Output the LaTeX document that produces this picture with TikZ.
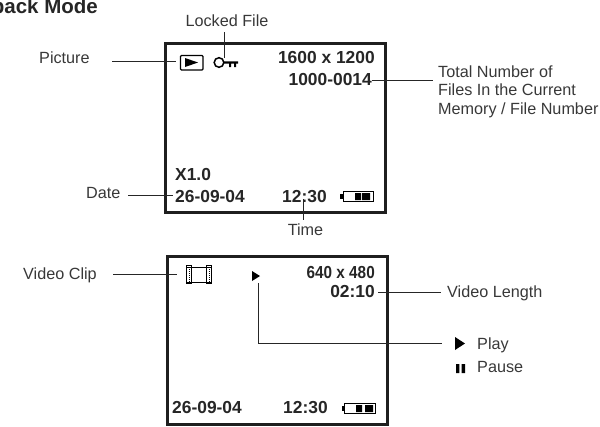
\documentclass[tikz,border=0pt]{standalone}
\usepackage{fontspec}
\setmainfont{Liberation Sans}
\begin{document}
\begin{tikzpicture}[x=1pt,y=-1pt,
  lbl/.style={text=black!78,font=\fontsize{16.2}{18}\selectfont,inner sep=0pt},
  val/.style={text=black!85,font=\fontsize{17.4}{19}\selectfont\bfseries,inner sep=0pt},
  screen/.style={draw=black!88,line width=3.4pt,fill=white,inner sep=0pt,anchor=north west},
  conn/.style={draw=black!85,line width=0.7pt}]
\useasboundingbox (0,0) rectangle (600,426);
\node[anchor=base east,inner sep=0pt,font=\fontsize{20.5}{23}\selectfont\bfseries,text=black!85] (title) at (98,13.5) {back Mode};
% screens
\node[screen,minimum width=220.5pt,minimum height=169pt] (s1) at (163.5,42) {};
\node[screen,minimum width=220pt,minimum height=168pt] (s2) at (165.5,255) {};
% screen 1 content
\node[val,anchor=base east] (res) at (375,63) {1600 x 1200};
\node[val,anchor=base east] (num) at (372,85) {1000-0014};
\node[val,anchor=base west] (zoom) at (175,180) {X1.0};
\node[val,anchor=base west] (d1) at (175,202) {26-09-04};
\node[val,anchor=base west] (t1) at (282,202) {12:30};
\draw[black,line width=1.1pt,rounded corners=1pt] (180.5,55.5) rectangle (203,70);
\coordinate (picicon) at (176,61);
\fill[black] (185,58) -- (198,62.5) -- (185,67) -- cycle;
\draw[black,line width=1.5pt] (219,62.5) circle (4.8);
\fill[black] (224,61.3) rectangle (238,63.5) (229,63) rectangle (231,67) (234,63) rectangle (236,67);
\coordinate (keytop) at (224,57.5);
% battery
\draw[black,line width=.6pt] (343,191.5) rectangle (373,201.5);
\fill[black] (340,194) rectangle (343,199);
\fill[black] (355,193) rectangle (361,200) (362,193) rectangle (370,200);
% labels s1
\node[lbl] (locked) at (227,21) {Locked File};
\node[lbl,anchor=base west] (pic) at (39,63) {Picture};
\node[lbl,anchor=base west] (date) at (86,198.5) {Date};
\node[lbl,anchor=base] (time) at (305.5,235) {Time};
\node[lbl,anchor=base west] (tot1) at (438,77) {Total Number of};
\node[lbl,anchor=base west] (tot2) at (438,95.5) {Files In the Current};
\node[lbl,anchor=base west] (tot3) at (438,114) {Memory / File Number};
\coordinate (lk) at (224,32); \draw[conn] (lk) -- (keytop);
\coordinate (pa) at (112,61); \draw[conn] (pa) -- (picicon);
\coordinate (da) at (128,195); \coordinate (db) at (173,195); \draw[conn] (da) -- (db);
\coordinate (ta) at (303,199); \coordinate (tb) at (303,220); \draw[conn] (ta) -- (tb);
\coordinate (na) at (372,80); \coordinate (nb) at (433,80); \draw[conn] (na) -- (nb);
% screen 2 content
\node[val,anchor=base east] (res2) at (375,278) {\scalebox{.88}[1]{640 x 480}};
\node[val,anchor=base east] (len) at (375,297) {02:10};
\node[val,anchor=base west] (d2) at (172,413) {26-09-04};
\node[val,anchor=base west] (t2) at (283,413) {12:30};
\draw[black,line width=.8pt] (186.5,267) -- (211.5,267) (186.5,282) -- (211.5,282);
\draw[black,line width=.8pt] (186.5,265) rectangle (191.5,283) (206.5,265) rectangle (211.5,283);
\draw[black,line width=1pt,densely dotted] (189,265) -- (189,283) (209,265) -- (209,283);
\fill[black] (252,271) -- (260,276) -- (252,281) -- cycle;
\draw[black,line width=.6pt] (344.5,403.5) rectangle (375,413.5);
\fill[black] (341.5,406) rectangle (344.5,411);
\fill[black] (356,405) rectangle (362,412) (365,405) rectangle (373,412);
\node[lbl,anchor=base west] (vc) at (23,279) {Video Clip};
\node[lbl,anchor=base west] (vl) at (447,297) {Video Length};
\node[lbl,anchor=base west] (play) at (477,349) {Play};
\node[lbl,anchor=base west] (pause) at (477,372) {Pause};
\coordinate (va) at (113,274); \coordinate (vb) at (177,274); \draw[conn] (va) -- (vb);
\coordinate (la) at (378,292); \coordinate (lb) at (441,292); \draw[conn] (la) -- (lb);
\coordinate (pa2) at (258.5,283); \coordinate (pb2) at (442,343); \draw[conn] (pa2) |- (pb2);
\fill[black] (455,337) -- (465,343.5) -- (455,350) -- cycle;
\fill[black] (456,364) rectangle (459.3,373) (461.7,364) rectangle (465,373);
\end{tikzpicture}
\end{document}
